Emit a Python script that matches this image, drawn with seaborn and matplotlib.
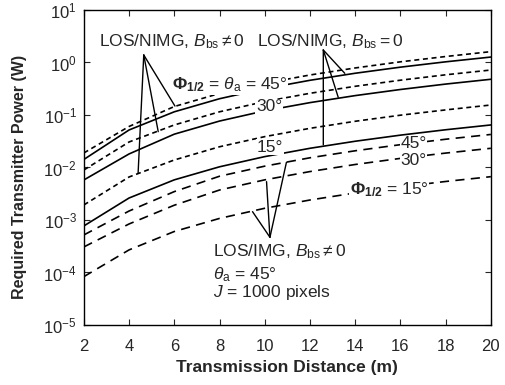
import matplotlib
matplotlib.use("Agg")
import matplotlib.pyplot as plt
import pandas as pd
import seaborn as sns
from matplotlib.ticker import LogLocator, NullLocator

# Transmission distance (m)
distance = [2, 4, 6, 8, 10, 12, 14, 16, 18, 20]

# LOS/NIMG, B_bs = 0 (short dashes), required power in W
nimg_b0_45 = [0.0189, 0.0604, 0.145, 0.257, 0.402, 0.578, 0.787, 1.03, 1.30, 1.61]
nimg_b0_30 = [0.00895, 0.0306, 0.0646, 0.115, 0.180, 0.259, 0.352, 0.460, 0.583, 0.719]
nimg_b0_15 = [0.00193, 0.00659, 0.0139, 0.0248, 0.0387, 0.0557, 0.0759, 0.0991, 0.125, 0.155]

# LOS/NIMG, B_bs != 0 (solid)
nimg_bn_45 = [0.0142, 0.0518, 0.115, 0.204, 0.318, 0.458, 0.624, 0.815, 1.03, 1.27]
nimg_bn_30 = [0.00578, 0.0181, 0.0431, 0.0766, 0.120, 0.172, 0.234, 0.306, 0.388, 0.479]
nimg_bn_15 = [0.000769, 0.00262, 0.00581, 0.0103, 0.0161, 0.0232, 0.0316, 0.0413, 0.0523, 0.0646]

# LOS/IMG, B_bs != 0 (long dashes)
img_45 = [0.000518, 0.00148, 0.00347, 0.00681, 0.0106, 0.0153, 0.0208, 0.0272, 0.0345, 0.0426]
img_30 = [0.000306, 0.000839, 0.00191, 0.00372, 0.00581, 0.00836, 0.0114, 0.0149, 0.0188, 0.0232]
img_15 = [0.0000832, 0.000269, 0.000603, 0.00107, 0.00167, 0.00240, 0.00327, 0.00428, 0.00541, 0.00668]

curves = {
    "nimg_b0_45": nimg_b0_45, "nimg_b0_30": nimg_b0_30, "nimg_b0_15": nimg_b0_15,
    "nimg_bn_45": nimg_bn_45, "nimg_bn_30": nimg_bn_30, "nimg_bn_15": nimg_bn_15,
    "img_45": img_45, "img_30": img_30, "img_15": img_15,
}

SHORT = (3.0, 2.2)
LONG = (5.5, 3.8)
dash_styles = {
    "nimg_b0_45": SHORT, "nimg_b0_30": SHORT, "nimg_b0_15": SHORT,
    "nimg_bn_45": "", "nimg_bn_30": "", "nimg_bn_15": "",
    "img_45": LONG, "img_30": LONG, "img_15": LONG,
}

# pointer lines: apex -> ends
left_apex = (4.65, 1.39)
left_ends = [(6.03, 0.148), (5.29, 0.0481), (4.40, 0.00776)]
right_apex = (12.59, 1.73)
right_ends = [(13.54, 0.622), (13.25, 0.217), (12.59, 0.0269)]
bottom_apex = (10.23, 4.68e-4)
bottom_ends = [(10.96, 0.01256), (10.08, 0.00537), (9.46, 0.00144)]

rows = []
for name, vals in curves.items():
    for d, p in zip(distance, vals):
        rows.append({"distance": d, "power": p, "curve": name})
df = pd.DataFrame(rows)

sns.set_style("ticks")
plt.rcParams["font.family"] = ["Liberation Sans", "DejaVu Sans"]
plt.rcParams["mathtext.fontset"] = "custom"
plt.rcParams["mathtext.rm"] = "Liberation Sans"
plt.rcParams["mathtext.it"] = "Liberation Sans:italic"
plt.rcParams["mathtext.bf"] = "Liberation Sans:bold"
plt.rcParams["axes.unicode_minus"] = False

fig, ax = plt.subplots(figsize=(5.05, 3.85), dpi=100)
fig.subplots_adjust(left=0.166, right=0.972, bottom=0.156, top=0.974)

sns.lineplot(
    data=df, x="distance", y="power", hue="curve", style="curve",
    palette={k: "black" for k in curves}, dashes=dash_styles,
    linewidth=1.2, legend=False, ax=ax,
)

ax.set_yscale("log")
ax.set_xlim(2, 20)
ax.set_ylim(1e-5, 10)
ax.set_xticks(range(2, 21, 2))
ax.yaxis.set_major_locator(LogLocator(base=10, numticks=10))
ax.yaxis.set_minor_locator(NullLocator())
ax.tick_params(direction="in", top=True, right=True, length=4, width=0.8,
               labelsize=12)
ax.tick_params(axis="x", pad=10)
ax.tick_params(axis="y", pad=5)
for s in ax.spines.values():
    s.set_linewidth(1.0)
    s.set_color("black")

ax.set_xlabel("Transmission Distance (m)", fontsize=12.5, fontweight="bold")
ax.set_ylabel("Required Transmitter Power (W)", fontsize=11.5, fontweight="bold")
ax.xaxis.set_label_coords(0.5, -0.112)
ax.yaxis.set_label_coords(-0.14, 0.47)

box = dict(facecolor="white", edgecolor="none", pad=0.4)
fs = 12.5
ax.text(2.66, 2.45, r"LOS/NIMG, $B_\mathrm{bs} \neq 0$", fontsize=fs, va="center", zorder=6)
ax.text(9.65, 2.45, r"LOS/NIMG, $B_\mathrm{bs} = 0$", fontsize=fs, va="center", zorder=6)
ax.text(5.9, 0.372, r"$\mathbf{\Phi_{1/2}}$ = $\theta_\mathrm{a}$ = 45°", fontsize=fs,
        va="center", bbox=box, zorder=6)
ax.text(9.61, 0.142, "30°", fontsize=fs, va="center", bbox=box, zorder=6)
ax.text(9.65, 0.0245, "15°", fontsize=fs, va="center", bbox=box, zorder=6)
ax.text(16.0, 0.0281, "45°", fontsize=fs, va="center", bbox=box, zorder=6)
ax.text(16.0, 0.0133, "30°", fontsize=fs, va="center", bbox=box, zorder=6)
ax.text(13.76, 0.00372, r"$\mathbf{\Phi_{1/2}}$ = 15°", fontsize=fs, va="center",
        bbox=box, zorder=6)
ax.text(7.71, 2.45e-4, r"LOS/IMG, $B_\mathrm{bs} \neq 0$", fontsize=fs, va="center", zorder=6)
ax.text(7.71, 8.96e-5, r"$\theta_\mathrm{a}$ = 45°", fontsize=fs, va="center", zorder=6)
ax.text(7.71, 4.07e-5, r"$J$ = 1000 pixels", fontsize=fs, va="center", zorder=6)

for apex, ends in [(left_apex, left_ends), (right_apex, right_ends),
                   (bottom_apex, bottom_ends)]:
    for end in ends:
        ax.annotate("", xy=end, xytext=apex,
                    arrowprops=dict(arrowstyle="-", lw=1.0, color="black",
                                    shrinkA=0, shrinkB=0), zorder=7)

fig.savefig("out.png", dpi=100)
